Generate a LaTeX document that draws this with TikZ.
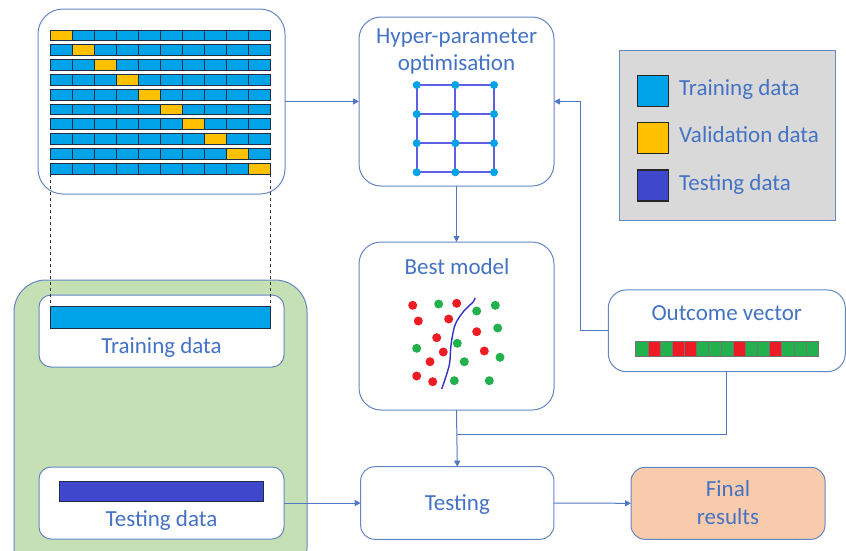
\documentclass[tikz,border=0pt]{standalone}
\usepackage{fontspec}
\setmainfont{Carlito}
\usetikzlibrary{arrows.meta}
\definecolor{txt}{RGB}{68,114,196}
\definecolor{bord}{RGB}{100,135,195}
\definecolor{conn}{RGB}{80,120,196}
\definecolor{trn}{RGB}{0,162,232}
\definecolor{val}{RGB}{255,192,0}
\definecolor{tst}{RGB}{63,72,204}
\definecolor{grn}{RGB}{197,224,180}
\definecolor{lgray}{RGB}{217,217,217}
\definecolor{peach}{RGB}{248,203,173}
\definecolor{dotred}{RGB}{237,28,36}
\definecolor{dotgreen}{RGB}{34,177,76}
\definecolor{gridline}{RGB}{95,95,225}
\definecolor{curve}{RGB}{50,50,200}
\definecolor{celline}{RGB}{30,45,70}
\tikzset{
  box/.style={draw=bord, line width=1pt, rounded corners=#1, inner sep=0pt, outer sep=0pt},
  box/.default=18,
  lbl/.style={text=txt, font=\fontsize{23}{27}\selectfont, inner sep=0pt, anchor=base},
  arr/.style={draw=conn, line width=1pt, -{Triangle[length=6pt,width=6pt]}},
  ln/.style={draw=conn, line width=1pt},
  cell/.style={draw=celline, line width=0.7pt},
  swatch/.style={draw=black!85, line width=1.3pt, minimum width=31, minimum height=31, inner sep=0pt},
  gdot/.style={circle, fill=trn, inner sep=0pt, minimum size=8},
  sdot/.style={circle, inner sep=0pt, minimum size=9},
}
\begin{document}
\begin{tikzpicture}[x=1pt,y=-1pt]
\clip (0,0) rectangle (846,550);
\fill[white] (0,0) rectangle (846,550);

% ---- green group with data boxes
\node (grp) [box=32, fill=grn, minimum width=293, minimum height=300] at (160.5,430) {};
\node (trbox) [box=12, fill=white, minimum width=245, minimum height=72] at (161.5,331) {};
\node (tebox) [box=12, fill=white, minimum width=245, minimum height=72] at (161.5,503) {};
\node (trbar) [cell, fill=trn, minimum width=220, minimum height=21.6, inner sep=0pt] at (160.7,317.5) {};
\node (tebar) [cell, fill=tst, minimum width=204, minimum height=20, inner sep=0pt] at (161,491) {};
\node (trlbl) [lbl] at (161.5,353.3) {Training data};
\node (telbl) [lbl] at (161.5,526.7) {Testing data};

% ---- cross validation box
\node (cv) [box=25, fill=white, minimum width=247, minimum height=185] at (161.5,101.5) {};
\foreach \i in {0,...,9}{
  \foreach \j in {0,...,9}{
    \pgfmathsetmacro{\xa}{50.7+22*\j}
    \pgfmathsetmacro{\ya}{30+14.8*\i}
    \ifnum\i=\j
      \filldraw[cell, fill=val] (\xa,\ya) rectangle ++(22,10.7);
    \else
      \filldraw[cell, fill=trn] (\xa,\ya) rectangle ++(22,10.7);
    \fi
  }
}
\coordinate (dl) at (50.7,173.5);
\coordinate (dr) at (270.7,173.5);
\draw[black!80, dashed, line width=0.7pt] (dl) -- (dl |- trbar.north);
\draw[black!80, dashed, line width=0.7pt] (dr) -- (dr |- trbar.north);

% ---- hyper-parameter box
\node (hyp) [box=22, fill=white, minimum width=195, minimum height=169] at (456.5,101.5) {};
\node (hyp1) [lbl] at (456.5,43.3) {Hyper-parameter};
\node (hyp2) [lbl] at (456.5,70) {optimisation};
\foreach \gy in {85,114.1,143.2,172.3}{
  \draw[gridline, line width=1.8pt] (416.7,\gy) -- (494,\gy);
}
\foreach \gx in {416.7,455.35,494}{
  \draw[gridline, line width=1.8pt] (\gx,85) -- (\gx,172.3);
}
\foreach \gx in {416.7,455.35,494}{
  \foreach \gy in {85,114.1,143.2,172.3}{
    \node[gdot] at (\gx,\gy) {};
  }
}

% ---- legend
\node (leg) [draw=bord, line width=1pt, fill=lgray, minimum width=216.4, minimum height=170, inner sep=0pt] at (727.5,135.7) {};
\node (sw1) [swatch, fill=trn] at (653.3,91.2) {};
\node (sw2) [swatch, fill=val] at (653.3,138) {};
\node (sw3) [swatch, fill=tst] at (653.3,185.5) {};
\node (lg1) [lbl, anchor=base west] at (679,95) {Training data};
\node (lg2) [lbl, anchor=base west] at (679,142.7) {Validation data};
\node (lg3) [lbl, anchor=base west] at (679,190) {Testing data};

% ---- best model
\node (best) [box=22, fill=white, minimum width=195, minimum height=168] at (456.5,326) {};
\node (bestlbl) [lbl] at (457,274.3) {Best model};
\foreach \p in {(412.7,305.3),(456.7,303.3),(418.3,321),(448.7,319),(476.7,331.7),(436.7,337.7),(484.3,351),(443.3,352),(430,361.7),(416.7,376),(432.7,381.7)}{
  \node[sdot, fill=dotred] at \p {};
}
\foreach \p in {(438.7,304),(476.7,311),(495.3,305.3),(497.7,328),(457.3,343.3),(416.7,348.3),(500,357.3),(464.3,361.7),(454.3,380.7),(489.3,380.7)}{
  \node[sdot, fill=dotgreen] at \p {};
}
\draw[curve, line width=1.4pt] plot[smooth] coordinates {(475,297.7) (473.3,301.7) (463.3,311.7) (455,325) (451,345) (449.3,365) (441.7,389)};

% ---- outcome vector
\node (out) [box=18, fill=white, minimum width=237, minimum height=81.7] at (726.8,330.8) {};
\node (outlbl) [lbl] at (726.7,320) {Outcome vector};
\foreach \c [count=\k from 0] in {G,R,G,R,R,G,G,G,R,G,G,R,G,G,G}{
  \pgfmathsetmacro{\xc}{635.7+12.17*\k}
  \if\c R
    \filldraw[draw=black!55, line width=0.5pt, fill=dotred] (\xc,341.7) rectangle ++(12.17,14.3);
  \else
    \filldraw[draw=black!55, line width=0.5pt, fill=dotgreen] (\xc,341.7) rectangle ++(12.17,14.3);
  \fi
}

% ---- testing and final
\node (test) [box=14, fill=white, minimum width=193.3, minimum height=72.6] at (457.3,503) {};
\node (testlbl) [lbl] at (457.3,510.7) {Testing};
\node (fin) [box=14, fill=peach, minimum width=194, minimum height=72] at (728,503.3) {};
\node (fin1) [lbl] at (728,496.7) {Final};
\node (fin2) [lbl] at (728,524) {results};

% ---- connectors
\draw[arr] (cv.east) -- (hyp.west);
\draw[arr] (out.west) -- ++(-28,0) |- (hyp.east);
\draw[arr] (hyp.south) -- (best.north);
\draw[arr] (best.south) -- (test.north);
\coordinate (join) at (457,434);
\draw[ln] (out.south) |- (join);
\draw[arr] (tebox.east) -- (test.west);
\draw[arr] (test.east) -- (fin.west);
\end{tikzpicture}
\end{document}
